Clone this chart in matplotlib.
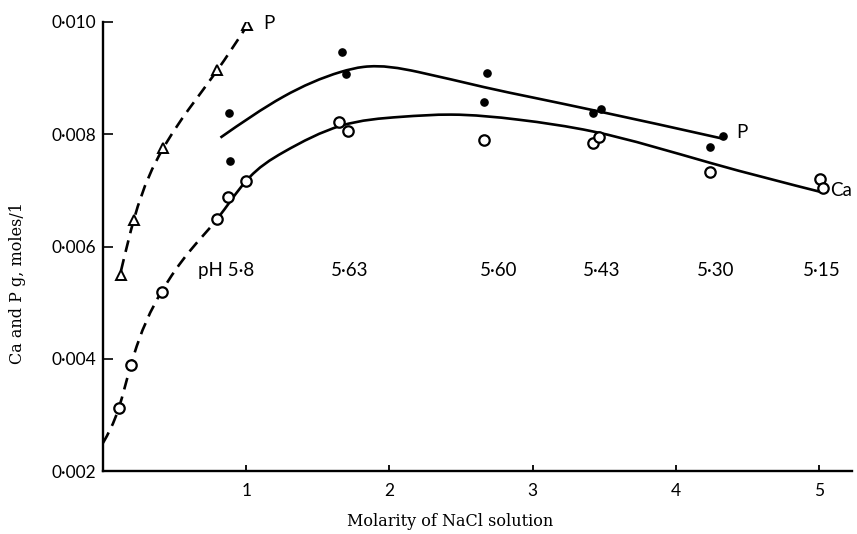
import numpy as np
import matplotlib
matplotlib.use("Agg")
import matplotlib.pyplot as plt
from matplotlib.path import Path
from matplotlib.patches import PathPatch

# ---------------- data ----------------
# Open triangles: P at low molarity
tri_x = [0.126, 0.218, 0.418, 0.795, 1.005]
tri_y = [0.00549, 0.00647, 0.00776, 0.00915, 0.00995]

# Open circles: Ca
ca_x = [0.11, 0.195, 0.41, 0.795, 0.87, 1.0, 1.65, 1.71, 2.66, 3.42, 3.46, 4.24, 5.01, 5.03]
ca_y = [0.00312, 0.00389, 0.00519, 0.00649, 0.00688, 0.00717, 0.00822, 0.00806,
        0.0079, 0.00785, 0.00795, 0.00733, 0.0072, 0.00704]

# Filled circles: P
p_x = [0.88, 0.89, 1.67, 1.70, 2.68, 2.66, 3.42, 3.48, 4.24, 4.33]
p_y = [0.00838, 0.00753, 0.00947, 0.00908, 0.00909, 0.00858, 0.00838, 0.00845, 0.00778, 0.00797]

# Hand-drawn curves (knots)
tri_curve_x = [0.126, 0.218, 0.418, 0.6, 0.795, 1.005]
tri_curve_y = [0.00557, 0.00650, 0.00774, 0.00845, 0.00913, 0.00993]

ca_curve_x = [0.0, 0.11, 0.195, 0.41, 0.6, 0.80, 1.0, 1.26, 1.66, 2.08, 2.43, 2.9, 3.42, 4.24, 5.03]
ca_curve_y = [0.0025, 0.00312, 0.00389, 0.0052, 0.0059, 0.0065, 0.00717, 0.00768, 0.00815,
              0.00831, 0.00835, 0.00826, 0.00805, 0.00749, 0.00696]
ca_dashed_segments = 5   # first segments drawn dashed

p_curve_x = [0.82, 1.26, 1.66, 1.82, 2.2, 2.66, 3.01, 3.42, 4.33]
p_curve_y = [0.00794, 0.00867, 0.00911, 0.0092, 0.00911, 0.00884, 0.00865, 0.00843, 0.00792]

ph_labels = ["pH 5\u00b78", "5\u00b763", "5\u00b760", "5\u00b743", "5\u00b730", "5\u00b715"]
ph_x = [0.86, 1.72, 2.76, 3.48, 4.28, 5.02]
ph_y = 0.00558

xticks = [1, 2, 3, 4, 5]
yticks = [0.002, 0.004, 0.006, 0.008, 0.010]
ytick_labels = ["0\u00b7002", "0\u00b7004", "0\u00b7006", "0\u00b7008", "0\u00b7010"]

# ---------------- drawing ----------------
SANS = ["Lato", "DejaVu Sans"]
SERIF = ["DejaVu Serif"]

fig = plt.figure(figsize=(8.57, 5.34), dpi=100)
ax = fig.add_axes([103 / 857, 1 - 471 / 534, (852 - 103) / 857, (471 - 22) / 534])
ax.set_xlim(0, 5.23)
ax.set_ylim(0.002, 0.010)

for s in ["top", "right"]:
    ax.spines[s].set_visible(False)
for s in ["left", "bottom"]:
    ax.spines[s].set_linewidth(1.7)
    ax.spines[s].set_color("black")


def spline_bezier(xs, ys):
    """Natural cubic spline through the knots, expressed as Bezier segments."""
    x = np.asarray(xs, float)
    y = np.asarray(ys, float)
    n = len(x)
    h = np.diff(x)
    d = np.diff(y) / h
    A = np.zeros((n, n))
    b = np.zeros(n)
    A[0, 0] = 1.0
    A[-1, -1] = 1.0
    for i in range(1, n - 1):
        A[i, i - 1] = h[i - 1]
        A[i, i] = 2 * (h[i - 1] + h[i])
        A[i, i + 1] = h[i]
        b[i] = 6 * (d[i] - d[i - 1])
    M = np.linalg.solve(A, b)
    m = np.empty(n)
    for i in range(n - 1):
        m[i] = d[i] - h[i] * (2 * M[i] + M[i + 1]) / 6
    m[-1] = d[-1] + h[-1] * (M[-2] + 2 * M[-1]) / 6
    segs = []
    for i in range(n - 1):
        p1 = np.array([x[i], y[i]])
        p2 = np.array([x[i + 1], y[i + 1]])
        c1 = np.array([x[i] + h[i] / 3, y[i] + m[i] * h[i] / 3])
        c2 = np.array([x[i + 1] - h[i] / 3, y[i + 1] - m[i + 1] * h[i] / 3])
        segs.append((p1, c1, c2, p2))
    return segs


def draw_segs(segs, ls):
    verts, codes = [], []
    for k, (p1, c1, c2, p2) in enumerate(segs):
        if k == 0:
            verts.append(p1); codes.append(Path.MOVETO)
        verts += [c1, c2, p2]; codes += [Path.CURVE4] * 3
    patch = PathPatch(Path(verts, codes), fill=False, lw=1.9, ec="black",
                      linestyle=ls, transform=ax.transData, capstyle="butt")
    ax.add_patch(patch)


dash = (0, (4.5, 2.8))
draw_segs(spline_bezier(tri_curve_x, tri_curve_y), dash)
ca_segs = spline_bezier(ca_curve_x, ca_curve_y)
draw_segs(ca_segs[:ca_dashed_segments], dash)
draw_segs(ca_segs[ca_dashed_segments:], "-")
draw_segs(spline_bezier(p_curve_x, p_curve_y), "-")

ax.plot(tri_x, tri_y, linestyle="none", marker="^", ms=7.5, mfc="white",
        mec="black", mew=1.4, zorder=5)
ax.plot(ca_x, ca_y, linestyle="none", marker="o", ms=7.5, mfc="white",
        mec="black", mew=1.6, zorder=5)
ax.plot(p_x, p_y, linestyle="none", marker="o", ms=5.2, mfc="black",
        mec="black", zorder=5)

# labels on the chart
ax.text(1.12, 0.00998, "P", fontsize=13.5, family=SANS, va="center", ha="left")
ax.text(4.42, 0.00803, "P", fontsize=13.5, family=SANS, va="center", ha="left")
ax.text(5.08, 0.00700, "Ca", fontsize=13.5, family=SANS, va="center", ha="left",
        clip_on=False)
for lab, x in zip(ph_labels, ph_x):
    ax.text(x, ph_y, lab, fontsize=13.5, family=SANS, va="center", ha="center")

# ticks
ax.set_xticks(xticks)
ax.set_xticklabels([str(t) for t in xticks], family=SANS, fontsize=12.5)
ax.tick_params(axis="x", direction="in", length=4, width=1.3, pad=9)
ax.set_yticks(yticks)
ax.set_yticklabels(ytick_labels, family=SANS, fontsize=12.5)
ax.tick_params(axis="y", direction="in", length=7, width=1.2, pad=5)

fig.text(450 / 857, 1 - 522 / 534, "Molarity of NaCl solution", family=SERIF,
         fontsize=11.5, ha="center", va="center")
fig.text(18 / 857, 1 - 283 / 534, "Ca and P g, moles/1", family=SERIF,
         fontsize=11.5, ha="center", va="center", rotation=90)

fig.savefig("out.png", dpi=100)
